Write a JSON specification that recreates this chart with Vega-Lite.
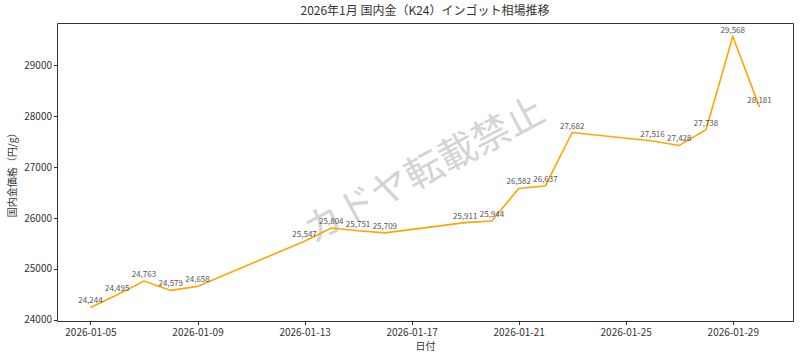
{
  "$schema": "https://vega.github.io/schema/vega-lite/v6.json",
  "width": 736,
  "height": 298,
  "autosize": {"type": "none"},
  "padding": {"left": 57, "top": 23, "right": 7, "bottom": 39},
  "background": "white",
  "config": {
    "font": "Noto Sans CJK JP",
    "view": {"stroke": "#333333", "strokeWidth": 1},
    "axis": {
      "labelFont": "Noto Sans CJK JP",
      "titleFont": "Noto Sans CJK JP",
      "labelFontSize": 10,
      "titleFontSize": 10,
      "labelColor": "#333333",
      "titleColor": "#333333",
      "titleFontWeight": "normal",
      "tickColor": "#333333",
      "tickSize": 3.5,
      "domain": false,
      "gridColor": "#b0b0b0",
      "gridOpacity": 0.5,
      "gridDash": [4, 3],
      "gridWidth": 0.8
    }
  },
  "title": {
    "text": "2026年1月 国内金（K24）インゴット相場推移",
    "font": "Noto Sans CJK JP",
    "fontSize": 12,
    "fontWeight": "normal",
    "color": "#333333",
    "anchor": "middle",
    "offset": 5
  },
  "datasets": {
    "prices": [
      {"date": "2026-01-05", "price": 24244},
      {"date": "2026-01-06", "price": 24495},
      {"date": "2026-01-07", "price": 24763},
      {"date": "2026-01-08", "price": 24579},
      {"date": "2026-01-09", "price": 24658},
      {"date": "2026-01-13", "price": 25547},
      {"date": "2026-01-14", "price": 25804},
      {"date": "2026-01-15", "price": 25751},
      {"date": "2026-01-16", "price": 25709},
      {"date": "2026-01-19", "price": 25911},
      {"date": "2026-01-20", "price": 25944},
      {"date": "2026-01-21", "price": 26582},
      {"date": "2026-01-22", "price": 26637},
      {"date": "2026-01-23", "price": 27682},
      {"date": "2026-01-26", "price": 27516},
      {"date": "2026-01-27", "price": 27428},
      {"date": "2026-01-28", "price": 27738},
      {"date": "2026-01-29", "price": 29568},
      {"date": "2026-01-30", "price": 28181}
    ],
    "watermark": [{"text": "カドヤ転載禁止"}]
  },
  "layer": [
    {
      "data": {"name": "watermark"},
      "mark": {
        "type": "text",
        "fontSize": 38,
        "angle": -28,
        "color": "#d4d4d4",
        "align": "center",
        "baseline": "middle",
        "font": "Noto Sans CJK JP"
      },
      "encoding": {
        "x": {"datum": {"year": 2026, "month": 1, "date": 17, "hours": 12, "utc": true}, "type": "temporal"},
        "y": {"datum": 26906, "type": "quantitative"},
        "text": {"field": "text"}
      }
    },
    {
      "data": {"name": "prices"},
      "mark": {"type": "line", "color": "#FFA500", "strokeWidth": 1.6},
      "encoding": {
        "x": {
          "field": "date",
          "type": "temporal",
          "title": "日付",
          "scale": {
            "type": "utc",
            "domain": [
              {"year": 2026, "month": 1, "date": 3, "hours": 18, "utc": true},
              {"year": 2026, "month": 1, "date": 31, "hours": 6, "utc": true}
            ]
          },
          "axis": {
            "labelExpr": "utcFormat(datum.value, '%Y-%m-%d')",
            "values": [
              {"year": 2026, "month": 1, "date": 5, "utc": true},
              {"year": 2026, "month": 1, "date": 9, "utc": true},
              {"year": 2026, "month": 1, "date": 13, "utc": true},
              {"year": 2026, "month": 1, "date": 17, "utc": true},
              {"year": 2026, "month": 1, "date": 21, "utc": true},
              {"year": 2026, "month": 1, "date": 25, "utc": true},
              {"year": 2026, "month": 1, "date": 29, "utc": true}
            ],
            "labelPadding": 3,
            "titlePadding": 4
          }
        },
        "y": {
          "field": "price",
          "type": "quantitative",
          "title": "国内金価格（円/g）",
          "scale": {"domain": [23978, 29834], "nice": false, "zero": false},
          "axis": {
            "values": [24000, 25000, 26000, 27000, 28000, 29000],
            "format": "d",
            "labelPadding": 2,
            "titlePadding": 6
          }
        }
      }
    },
    {
      "data": {"name": "prices"},
      "mark": {
        "type": "text",
        "fontSize": 8,
        "color": "#555555",
        "baseline": "bottom",
        "dy": -2,
        "font": "Noto Sans CJK JP"
      },
      "encoding": {
        "x": {"field": "date", "type": "temporal"},
        "y": {"field": "price", "type": "quantitative"},
        "text": {"field": "price", "type": "quantitative", "format": ","}
      }
    }
  ]
}
